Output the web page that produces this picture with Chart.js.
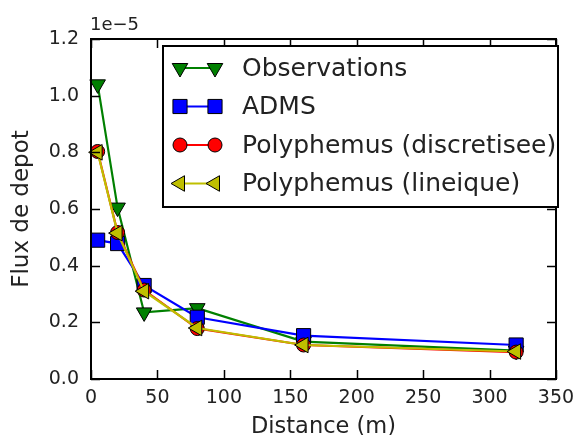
<!DOCTYPE html>
<html><head><meta charset="utf-8">
<script src="https://cdn.jsdelivr.net/npm/chart.js@4/dist/chart.umd.min.js"></script>
<style>html,body{margin:0;padding:0;background:#fff}#wrap{width:574px;height:435px}</style>
</head><body><div id="wrap"><canvas id="c" width="574" height="435"></canvas></div>
<script>
// values in units of 1e-5
const distances = [5, 20, 40, 80, 160, 320];
const observations = [1.04, 0.605, 0.235, 0.25, 0.132, 0.10];
const adms = [0.49, 0.478, 0.33, 0.218, 0.153, 0.12];
const polyDiscretisee = [0.803, 0.517, 0.314, 0.178, 0.12, 0.095];
const polyLineique = [0.80, 0.515, 0.31, 0.18, 0.12, 0.097];
const seriesLabels = ['Observations', 'ADMS', 'Polyphemus (discretisee)', 'Polyphemus (lineique)'];
const xTicks = [0, 50, 100, 150, 200, 250, 300, 350];
const yTicks = [0.0, 0.2, 0.4, 0.6, 0.8, 1.0, 1.2];
const yOffsetText = '1e\u22125';
const xTitle = 'Distance (m)';
const yTitle = 'Flux de depot';

const FONT = "'DejaVu Sans', sans-serif";
const styles = [
  {color:'#008000', style:'triangle', rot:180, r:9},
  {color:'#0000ff', style:'rect', rot:0, r:10},
  {color:'#ff0000', style:'circle', rot:0, r:7},
  {color:'#bfbf00', style:'triangle', rot:270, r:9}
];
const allData = [observations, adms, polyDiscretisee, polyLineique];
const datasets = allData.map((arr, i) => ({
  label: seriesLabels[i],
  data: arr.map((v, j) => ({x: distances[j], y: v})),
  borderColor: styles[i].color,
  backgroundColor: styles[i].color,
  borderWidth: 2.2,
  pointStyle: styles[i].style,
  pointRotation: styles[i].rot,
  pointRadius: styles[i].r,
  pointBackgroundColor: styles[i].color,
  pointBorderColor: '#000',
  pointBorderWidth: 1,
  tension: 0,
  clip: false,
  order: 4 - i
}));

const framePlugin = {
  id: 'frame',
  afterDraw(chart) {
    const ctx = chart.ctx, a = chart.chartArea;
    const xs = chart.scales.x, ys = chart.scales.y;
    ctx.save();
    ctx.strokeStyle = '#000';
    ctx.lineWidth = 1.5;
    const tl = 9;
    ctx.beginPath();
    xTicks.forEach(v => {
      const px = Math.round(xs.getPixelForValue(v)) + 0.5;
      ctx.moveTo(px, a.bottom); ctx.lineTo(px, a.bottom - tl);
      ctx.moveTo(px, a.top); ctx.lineTo(px, a.top + tl);
    });
    yTicks.forEach(v => {
      const py = Math.round(ys.getPixelForValue(v)) + 0.5;
      ctx.moveTo(a.left, py); ctx.lineTo(a.left + tl, py);
      ctx.moveTo(a.right, py); ctx.lineTo(a.right - tl, py);
    });
    ctx.stroke();
    ctx.lineWidth = 2;
    ctx.strokeRect(a.left, a.top, a.right - a.left, a.bottom - a.top);
    // offset text
    ctx.fillStyle = '#222';
    ctx.font = '18px ' + FONT;
    ctx.textAlign = 'left';
    ctx.textBaseline = 'alphabetic';
    ctx.fillText(yOffsetText, a.left - 1, 30);
    // legend
    const lx = 163, ly = 46, lw = 395, lh = 161;
    ctx.fillStyle = '#fff';
    ctx.fillRect(lx, ly, lw, lh);
    ctx.strokeStyle = '#000';
    ctx.lineWidth = 2;
    ctx.strokeRect(lx, ly, lw, lh);
    ctx.font = '25px ' + FONT;
    ctx.textBaseline = 'middle';
    chart.data.datasets.forEach((ds, i) => {
      const cy = 68 + i * 38.5;
      const x1 = 180, x2 = 215;
      ctx.strokeStyle = ds.borderColor;
      ctx.lineWidth = 2;
      ctx.beginPath(); ctx.moveTo(x1, cy); ctx.lineTo(x2, cy); ctx.stroke();
      const opts = {pointStyle: ds.pointStyle, rotation: ds.pointRotation, radius: ds.pointRadius, borderWidth: 1};
      ctx.fillStyle = ds.pointBackgroundColor; ctx.strokeStyle = '#000'; ctx.lineWidth = 1;
      Chart.helpers.drawPoint(ctx, opts, x1, cy);
      ctx.fillStyle = ds.pointBackgroundColor; ctx.strokeStyle = '#000';
      Chart.helpers.drawPoint(ctx, opts, x2, cy);
      ctx.fillStyle = '#222';
      ctx.fillText(ds.label, 242, cy + 1);
    });
    ctx.restore();
  }
};

new Chart(document.getElementById('c'), {
  type: 'line',
  data: {datasets},
  options: {
    responsive: false,
    animation: false,
    devicePixelRatio: 1,
    layout: {padding: {left: 0, right: 18, top: 39, bottom: -6}},
    plugins: {legend: {display: false}, tooltip: {enabled: false}},
    scales: {
      x: {
        type: 'linear', min: 0, max: 350,
        afterBuildTicks(s) { s.ticks = xTicks.map(v => ({value: v})); },
        afterFit(s) { s.height = 62; s.paddingRight = 0; s.paddingLeft = 0; },
        grid: {display: false, drawTicks: false},
        border: {display: false},
        ticks: {color: '#222', font: {family: FONT, size: 19}, padding: 8, maxRotation: 0,
          callback: v => String(v)},
        title: {display: true, text: xTitle, color: '#222', font: {family: FONT, size: 22.5}, padding: {top: 0, bottom: 0}}
      },
      y: {
        type: 'linear', min: 0, max: 1.2,
        afterBuildTicks(s) { s.ticks = yTicks.map(v => ({value: v})); },
        afterFit(s) { s.width = 91; s.paddingTop = 0; s.paddingBottom = 0; },
        grid: {display: false, drawTicks: false},
        border: {display: false},
        ticks: {color: '#222', font: {family: FONT, size: 19}, padding: 12,
          callback: v => Number(v).toFixed(1)},
        title: {display: true, text: yTitle, color: '#222', font: {family: FONT, size: 23}, padding: {top: 8, bottom: 0}}
      }
    }
  },
  plugins: [framePlugin]
});
</script></body></html>
